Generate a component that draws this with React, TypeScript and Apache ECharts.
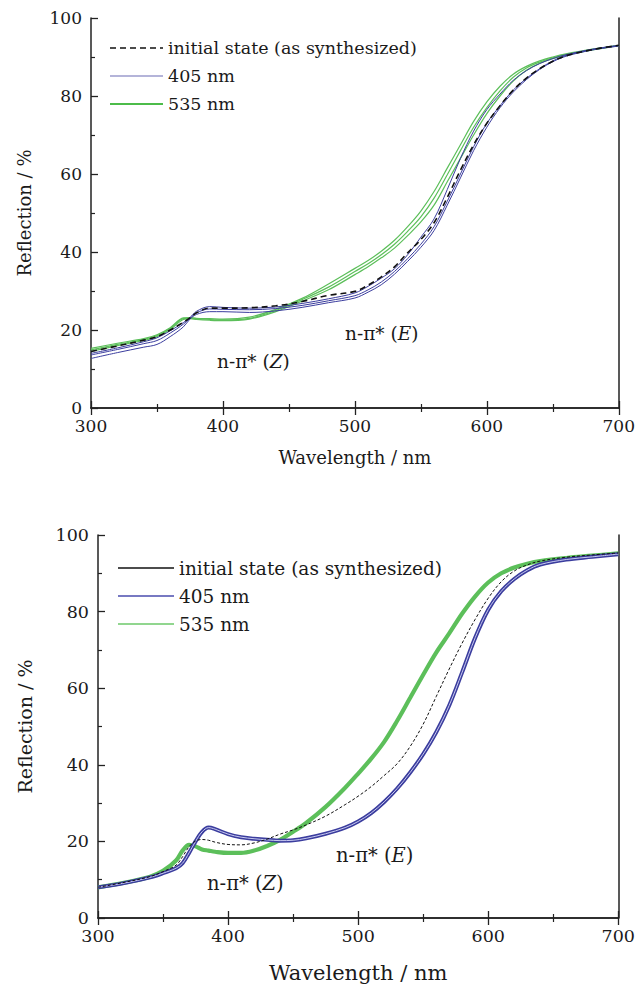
import React, { useEffect, useRef } from "react";
import * as echarts from "echarts";

// ---------- data: top panel ----------
const topWl = [300, 320, 340, 350, 360, 370, 375, 380, 390, 400, 420, 440, 460, 480, 500, 510, 520, 530, 540, 550, 560, 570, 580, 590, 600, 610, 620, 630, 640, 650, 660, 680, 700];
const topInitial = [14.5, 15.9, 17.4, 18.3, 20.0, 22.0, 23.1, 24.4, 25.6, 25.6, 25.7, 26.2, 27.3, 28.9, 29.9, 31.5, 33.6, 36.2, 39.8, 43.2, 47.5, 54, 61, 67.5, 73, 77.5, 81.5, 84.6, 87, 88.9, 90.3, 91.9, 93.0];
const top405a = [14.0, 15.4, 17.0, 18.0, 19.8, 21.9, 23.2, 24.8, 26.0, 25.8, 25.6, 25.9, 26.8, 28.0, 29.5, 31.2, 33.3, 35.7, 39.3, 43.8, 48.5, 56, 64, 71, 76.5, 80.5, 84, 86.5, 88.3, 89.6, 90.6, 92.0, 93.0];
const top405b = [13.6, 15.0, 16.5, 17.3, 19.2, 21.5, 23.0, 24.4, 25.4, 25.3, 25.2, 25.5, 26.3, 27.5, 28.8, 30.3, 32.3, 35.0, 38.3, 42.0, 46.5, 53, 60, 67, 73, 77.5, 81.5, 84.5, 87.0, 89.0, 90.4, 91.9, 92.9];
const top405c = [12.7, 14.2, 15.6, 16.3, 18.3, 20.8, 22.8, 24.0, 24.7, 24.7, 24.5, 24.9, 25.8, 27.0, 28.2, 29.7, 31.6, 34.3, 37.6, 41.2, 45.5, 52, 59, 66, 72, 77, 81, 84.2, 86.8, 88.8, 90.2, 91.8, 92.8];
const top535a = [15.3, 16.6, 17.8, 18.8, 20.6, 23.1, 23.2, 23.0, 22.9, 22.8, 23.3, 25.3, 28.1, 31.8, 35.8, 37.8, 40.2, 43.0, 46.5, 50.5, 55.5, 61.5, 67.5, 73.5, 78.5, 82.5, 85.6, 87.6, 89.0, 90.0, 90.8, 92.0, 93.0];
const top535b = [14.9, 16.3, 17.6, 18.6, 20.4, 22.9, 23.0, 22.9, 22.7, 22.6, 23.0, 25.0, 27.8, 31.0, 35.0, 37.0, 39.3, 42.0, 45.3, 49.0, 53.8, 59.8, 66.0, 72.0, 77.0, 81.3, 84.8, 87.2, 88.7, 89.8, 90.6, 91.9, 92.9];
const top535c = [14.5, 16.0, 17.3, 18.3, 20.1, 22.7, 22.9, 22.7, 22.5, 22.4, 22.8, 24.7, 27.4, 30.3, 34.2, 36.2, 38.5, 41.0, 44.2, 47.7, 52.0, 58.0, 64.0, 70.0, 75.5, 80.0, 83.8, 86.6, 88.4, 89.6, 90.5, 91.8, 92.9];

// ---------- data: bottom panel ----------
const botWl = [300, 320, 340, 350, 360, 365, 370, 375, 380, 385, 390, 400, 410, 420, 430, 440, 450, 460, 475, 490, 500, 510, 520, 530, 540, 550, 560, 570, 580, 590, 600, 610, 620, 630, 640, 660, 680, 700];
const botInitial = [8.0, 9.3, 10.8, 12.1, 13.8, 16.0, 18.6, 20.1, 20.5, 20.3, 19.8, 19.2, 19.1, 19.6, 20.6, 21.9, 23.0, 24.3, 26.6, 29.6, 31.8, 34.3, 37.2, 40.3, 44.8, 50.6, 57.8, 65.0, 71.8, 78.0, 83.5, 87.8, 90.6, 92.2, 93.2, 94.2, 94.8, 95.3];
const bot405 = [8.0, 9.1, 10.6, 11.7, 13.0, 14.3, 17.0, 20.0, 22.5, 23.6, 23.2, 21.9, 21.1, 20.7, 20.4, 20.2, 20.3, 20.8, 22.0, 23.6, 25.2, 27.4, 30.3, 33.8, 38.0, 42.8, 48.5, 55.5, 64.2, 73.2, 80.5, 85.3, 88.5, 90.8, 92.3, 93.6, 94.3, 95.0];
const bot535 = [8.0, 9.2, 10.8, 12.3, 15.0, 17.6, 19.1, 18.7, 17.9, 17.6, 17.3, 17.0, 17.0, 17.6, 18.8, 20.4, 22.5, 24.8, 29.0, 34.0, 37.7, 41.6, 46.0, 51.5, 57.5, 63.5, 69.3, 74.3, 79.5, 84.0, 87.6, 90.0, 91.5, 92.5, 93.2, 94.0, 94.6, 95.2];

const xTicks = [300, 400, 500, 600, 700];
const yTicks = [0, 20, 40, 60, 80, 100];
const legendNames = ["initial state (as synthesized)", "405 nm", "535 nm"];

const FONT = "DejaVu Serif";
const BLUE = "#3b3d9e";
const GREEN = "#5cbf5a";
const INK = "#1a1a1a";

function pairs(wl: number[], v: number[]) {
  return wl.map((w, i) => [w, v[i]]);
}

function axesFor(grid: number, tickFont: number, xNameFont: number, yNameFont: number, xGap: number, yGap: number) {
  const tick = { show: true, inside: true, length: 7, lineStyle: { color: "#222", width: 1.3 } };
  const minor = { show: true, splitNumber: 2, length: 4, lineStyle: { color: "#222", width: 1.2 } };
  const axisLine = { show: true, lineStyle: { color: "#222", width: 1.5 } };
  const x = [
    {
      type: "value", gridIndex: grid, position: "bottom", min: xTicks[0], max: xTicks[xTicks.length - 1], interval: 100,
      axisLine, axisTick: tick, minorTick: minor, splitLine: { show: false },
      axisLabel: { show: true, color: INK, fontFamily: FONT, fontSize: tickFont, margin: 9 },
      name: "Wavelength / nm", nameLocation: "middle", nameGap: xGap,
      nameTextStyle: { color: INK, fontFamily: FONT, fontSize: xNameFont },
    },
    {
      type: "value", gridIndex: grid, position: "top", min: 300, max: 700, interval: 100,
      axisLine, axisTick: tick, minorTick: minor, splitLine: { show: false }, axisLabel: { show: false },
    },
  ];
  const y = [
    {
      type: "value", gridIndex: grid, position: "left", min: yTicks[0], max: yTicks[yTicks.length - 1], interval: 20,
      axisLine, axisTick: tick, minorTick: minor, splitLine: { show: false },
      axisLabel: { show: true, color: INK, fontFamily: FONT, fontSize: tickFont, margin: 9 },
      name: "Reflection / %", nameLocation: "middle", nameGap: yGap,
      nameTextStyle: { color: INK, fontFamily: FONT, fontSize: yNameFont },
    },
    {
      type: "value", gridIndex: grid, position: "right", min: 0, max: 100, interval: 20,
      axisLine, axisTick: { show: false }, splitLine: { show: false }, axisLabel: { show: false },
    },
  ];
  return { x, y };
}

function line(name: string, data: number[][], xi: number, yi: number, style: any, z = 2) {
  return {
    type: "line", name, data, xAxisIndex: xi, yAxisIndex: yi, showSymbol: false, symbol: "none",
    smooth: 0.35, lineStyle: style, z, silent: true,
  };
}

function legendBlock(x0: number, y0: number, dy: number, len: number, fs: number, styles: any[]) {
  const els: any[] = [];
  legendNames.forEach((n, i) => {
    const y = y0 + i * dy;
    els.push({ type: "line", shape: { x1: x0, y1: y, x2: x0 + len, y2: y }, style: styles[i] });
    els.push({
      type: "text", x: x0 + len + 5, y,
      style: { text: n, fontFamily: FONT, fontSize: fs, fill: INK, verticalAlign: "middle", align: "left" },
    });
  });
  return els;
}

function label(x: number, y: number, letter: string, fs: number) {
  return {
    type: "text", x, y,
    style: {
      text: `{a|n-π* (}{b|${letter}}{a|)}`, verticalAlign: "middle", align: "left",
      rich: {
        a: { fontFamily: FONT, fontSize: fs, fill: INK },
        b: { fontFamily: FONT, fontSize: fs, fontStyle: "italic", fill: INK },
      },
    },
  };
}

export default function App() {
  const ref = useRef<HTMLDivElement>(null);
  useEffect(() => {
    document.body.style.margin = "0";
    if (!ref.current) return;
    const chart = echarts.init(ref.current, undefined, { renderer: "svg" });
    const a0 = axesFor(0, 17, 18, 18, 40, 58);
    const a1 = axesFor(1, 17.5, 21, 19, 44, 64);
    const blueTop = { color: BLUE, width: 1 };
    const greenTop = { color: GREEN, width: 1.2 };
    const option: any = {
      animation: false,
      backgroundColor: "#ffffff",
      textStyle: { fontFamily: FONT },
      grid: [
        { left: 91, top: 18, width: 529, height: 390 },
        { left: 98, top: 535, width: 522, height: 383 },
      ],
      xAxis: [...a0.x, ...a1.x],
      yAxis: [...a0.y, ...a1.y],
      series: [
        line("535 nm", pairs(topWl, top535a), 0, 0, greenTop),
        line("535 nm", pairs(topWl, top535b), 0, 0, greenTop),
        line("535 nm", pairs(topWl, top535c), 0, 0, greenTop),
        line("405 nm", pairs(topWl, top405a), 0, 0, blueTop),
        line("405 nm", pairs(topWl, top405b), 0, 0, blueTop),
        line("405 nm", pairs(topWl, top405c), 0, 0, blueTop),
        line(legendNames[0], pairs(topWl, topInitial), 0, 0, { color: "#111", width: 1.6, type: [6, 4] }, 3),

        line("535 nm", pairs(botWl, bot535), 2, 2, { color: GREEN, width: 4.2 }),
        line("405 nm", pairs(botWl, bot405), 2, 2, { color: BLUE, width: 4 }),
        line("405 nm", pairs(botWl, bot405), 2, 2, { color: "#c8caf0", width: 1 }, 3),
        line(legendNames[0], pairs(botWl, botInitial), 2, 2, { color: "#111", width: 1, type: [3, 2] }, 4),
      ],
      graphic: [
        ...legendBlock(110, 48, 28, 53, 17.5, [
          { stroke: "#111", lineWidth: 1.6, lineDash: [6, 4] },
          { stroke: "#6a6ab4", lineWidth: 1.2 },
          { stroke: "#4cbc4a", lineWidth: 2 },
        ]),
        ...legendBlock(118, 568, 28, 56, 18.5, [
          { stroke: "#111", lineWidth: 1.6 },
          { stroke: "#4a4cae", lineWidth: 1.6 },
          { stroke: "#6cc86a", lineWidth: 1.3 },
        ]),
        label(217, 361, "Z", 18.5),
        label(345, 333, "E", 18.5),
        label(207, 883, "Z", 19.5),
        label(336, 855, "E", 19.5),
      ],
    };
    chart.setOption(option);
    return () => chart.dispose();
  }, []);
  return <div ref={ref} style={{ width: 638, height: 986 }} />;
}
